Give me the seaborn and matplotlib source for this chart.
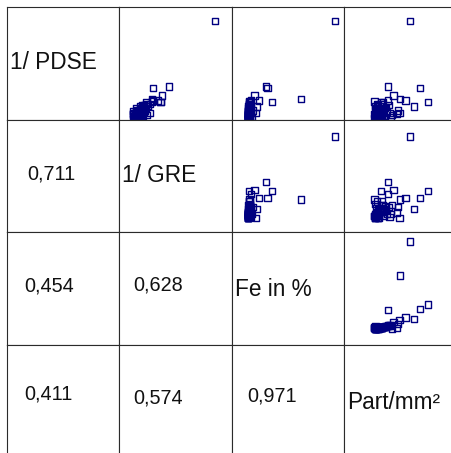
import matplotlib
matplotlib.use("Agg")
import matplotlib.pyplot as plt
import numpy as np
import pandas as pd
import seaborn as sns

# Variables of the scatter matrix
variables = ["1/ PDSE", "1/ GRE", "Fe in %", "Part/mm²"]

# Measured samples (one value per sample and variable)
pdse = [0.437, 0.091, 0.077, 0.139, 0.146, 0.057, 0.084, 0.030, 0.040, 0.106,
        0.025, 0.020, 0.077, 0.085,
        0.000, 0.005, 0.010, 0.003, 0.015, 0.020, 0.008, 0.025, 0.030, 0.035,
        0.013, 0.040, 0.045, 0.018, 0.050, 0.023, 0.055, 0.060, 0.033, 0.065,
        0.028, 0.070, 0.043, 0.005, 0.075, 0.080, 0.038, 0.010, 0.028,
        0.002, 0.008, 0.012, 0.018, 0.022, 0.028, 0.032, 0.038, 0.004, 0.015,
        0.042, 0.048, 0.052, 0.058, 0.000, 0.006, 0.036, 0.062, 0.068, 0.024]
gre = [0.339, 0.115, 0.146, 0.120, 0.177, 0.081, 0.120, 0.050, 0.090, 0.150,
       0.069, 0.096, 0.146, 0.135,
       0.050, 0.054, 0.060, 0.064, 0.052, 0.068, 0.072, 0.056, 0.076, 0.062,
       0.080, 0.070, 0.084, 0.058, 0.092, 0.050, 0.080, 0.100, 0.066, 0.088,
       0.054, 0.108, 0.078, 0.058, 0.096, 0.116, 0.050, 0.064, 0.108,
       0.052, 0.058, 0.066, 0.054, 0.062, 0.070, 0.058, 0.074, 0.070, 0.076,
       0.064, 0.078, 0.060, 0.072, 0.062, 0.082, 0.086, 0.082, 0.094, 0.050]
fe = [2.29, 1.53, 0.89, 0.79, 0.76, 0.56, 0.60, 0.54, 0.46, 0.50,
      0.37, 0.35, 0.375, 0.425,
      0.350, 0.355, 0.350, 0.363, 0.358, 0.368, 0.375, 0.363, 0.375, 0.380,
      0.370, 0.388, 0.380, 0.395, 0.400, 0.375, 0.400, 0.405, 0.413, 0.413,
      0.425, 0.388, 0.375, 0.363, 0.395, 0.388, 0.350, 0.438, 0.375,
      0.352, 0.356, 0.360, 0.354, 0.365, 0.362, 0.358, 0.368, 0.372, 0.378,
      0.366, 0.382, 0.360, 0.370, 0.357, 0.385, 0.390, 0.372, 0.384, 0.352]
part = [1164, 986, 1490, 1342, 778, 1236, 1084, 980, 956, 868,
        928, 840, 650, 778,
        540, 560, 580, 550, 600, 570, 620, 536, 640, 600,
        660, 680, 560, 700, 720, 610, 740, 550, 760, 780,
        800, 580, 620, 530, 690, 536, 600, 820, 660,
        545, 565, 590, 555, 605, 575, 615, 630, 645, 665,
        585, 695, 545, 625, 560, 710, 650, 595, 655, 540]

# Axis range used for every variable across the matrix
limits = [(0.0, 0.5), (0.0, 0.4), (0.0, 2.5), (0.0, 2000.0)]

# Pearson correlations shown in the lower triangle: (row, column, r)
corr_rows = [1, 2, 3, 2, 3, 3]
corr_cols = [0, 0, 0, 1, 1, 2]
corr_vals = [0.711, 0.454, 0.411, 0.628, 0.574, 0.971]

df = pd.DataFrame({variables[0]: pdse, variables[1]: gre,
                   variables[2]: fe, variables[3]: part})

sns.set_style("white")
plt.rcParams["font.family"] = ["Liberation Sans", "DejaVu Sans"]

W, H = 452, 453
cell = 112.5
x0, y0 = 7, 7
fig = plt.figure(figsize=(W / 100, H / 100), dpi=100)
fig.patch.set_facecolor("white")

n = len(variables)
axes = np.empty((n, n), dtype=object)
for i in range(n):
    for j in range(n):
        rect = [(x0 + cell * j) / W, (H - y0 - cell * (i + 1)) / H, cell / W, cell / H]
        axes[i, j] = fig.add_axes(rect)

line_col = "#2b2b2b"
for i in range(n):
    for j in range(n):
        ax = axes[i, j]
        if j > i:
            sns.scatterplot(data=df, x=variables[j], y=variables[i], ax=ax,
                            marker="s", s=21, facecolors="none",
                            edgecolor="#000080", linewidth=1.0, legend=False)
            ax.set_xlim(*limits[j])
            ax.set_ylim(*limits[i])
        ax.set_xticks([])
        ax.set_yticks([])
        ax.set_xlabel("")
        ax.set_ylabel("")
        ax.set_facecolor("white")
        for sp in ax.spines.values():
            sp.set_visible(True)
            sp.set_color(line_col)
            sp.set_linewidth(0.8)
            sp.set_zorder(5)

# Variable names on the diagonal
diag_y = [0.449, 0.442, 0.431, 0.426]
for k, name in enumerate(variables):
    axes[k, k].text(0.025, diag_y[k], name, transform=axes[k, k].transAxes,
                    ha="left", va="baseline", fontsize=16.3, color="#111111")

# Correlation coefficients below the diagonal
corr_pos = {(1, 0): (0.178, 0.471), (2, 0): (0.155, 0.469), (3, 0): (0.155, 0.513),
            (2, 1): (0.118, 0.478), (3, 1): (0.118, 0.477), (3, 2): (0.134, 0.492)}
for r, c, v in zip(corr_rows, corr_cols, corr_vals):
    px, py = corr_pos[(r, c)]
    axes[r, c].text(px, py, f"{v:.3f}".replace(".", ","),
                    transform=axes[r, c].transAxes, ha="left", va="baseline",
                    fontsize=14.3, color="#111111")

fig.savefig("out.png", dpi=100, facecolor="white")
